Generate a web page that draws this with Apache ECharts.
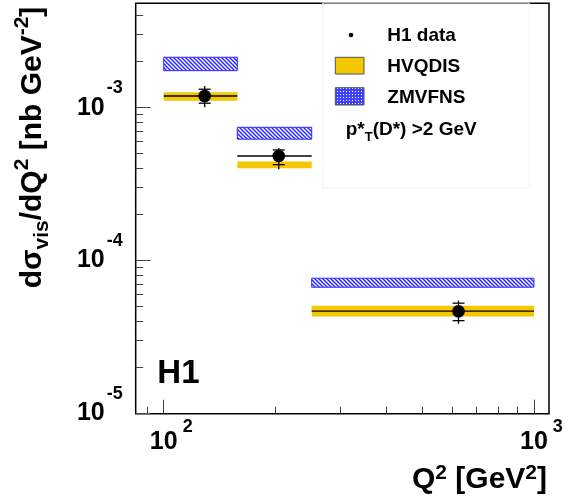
<!DOCTYPE html>
<html>
<head>
<meta charset="utf-8">
<script src="https://cdn.jsdelivr.net/npm/echarts@6/dist/echarts.min.js"></script>
<style>
html, body { margin: 0; padding: 0; background: #fff; }
#chart { width: 569px; height: 504px; }
</style>
</head>
<body>
<div id="chart"></div>
<script>
// ---------- data ----------
const qLow = [100, 158, 251];
const qHigh = [158, 251, 1000];
const qCenter = [129, 204.5, 625.5];
const sigmaData = [1.192e-3, 4.83e-4, 4.67e-5];
const statLow = [1.069e-3, 4.24e-4, 4.05e-5];
const statHigh = [1.319e-3, 5.29e-4, 5.27e-5];
const totLow = [1.006e-3, 3.96e-4, 3.86e-5];
const totHigh = [1.386e-3, 5.45e-4, 5.48e-5];
const hvqdisLow = [1.111e-3, 4.02e-4, 4.31e-5];
const hvqdisHigh = [1.261e-3, 4.44e-4, 5.06e-5];
const zmvfnsLow = [1.745e-3, 6.22e-4, 6.70e-5];
const zmvfnsHigh = [2.135e-3, 7.44e-4, 7.67e-5];

// ---------- axes / ticks ----------
const xMin = 84, xMax = 1098;
const yMin = 9.98e-6, yMax = 4.81e-3;
const xMajorTicks = [100, 1000];
const xMajorExp = ['2', '3'];
const xMinorTicks = [90, 200, 300, 400, 500, 600, 700, 800, 900];
const yMajorTicks = [1e-5, 1e-4, 1e-3];
const yMajorExp = ['-5', '-4', '-3'];
const yMinorTicks = [2e-5, 3e-5, 4e-5, 5e-5, 6e-5, 7e-5, 8e-5, 9e-5,
                     2e-4, 3e-4, 4e-4, 5e-4, 6e-4, 7e-4, 8e-4, 9e-4,
                     2e-3, 3e-3, 4e-3];

const FONT = "'Liberation Sans', Arial, Helvetica, sans-serif";
const YELLOW = '#f4c700';
const BLUE = '#2a2aff';
const ZWS = '\u200b';

function findExp(v, ticks, exps) {
  for (let i = 0; i < ticks.length; i++) {
    if (Math.abs(Math.log10(v) - Math.log10(ticks[i])) < 1e-6) return exps[i];
  }
  return null;
}

// hatch patterns
function makeHatch() {
  const c = document.createElement('canvas');
  c.width = 4; c.height = 4;
  const g = c.getContext('2d');
  g.fillStyle = '#fff'; g.fillRect(0, 0, 4, 4);
  g.strokeStyle = BLUE; g.lineWidth = 1.5;
  g.beginPath();
  g.moveTo(-1, -1); g.lineTo(5, 5);
  g.moveTo(-1, 3); g.lineTo(1, 5);
  g.moveTo(3, -1); g.lineTo(5, 1);
  g.stroke();
  return c;
}
function makeCross() {
  const c = document.createElement('canvas');
  c.width = 3; c.height = 3;
  const g = c.getContext('2d');
  g.fillStyle = '#4040ff'; g.fillRect(0, 0, 3, 3);
  g.fillStyle = '#ffffff'; g.fillRect(1, 1, 1, 1);
  return c;
}
const hatchCanvas = makeHatch();
const crossCanvas = makeCross();

function bandSeries(name, lo, hi, styleFn, z) {
  return {
    type: 'custom',
    name: name,
    xAxisIndex: 0, yAxisIndex: 0,
    z: z,
    silent: true,
    data: qLow.map((q, i) => [q, qHigh[i], lo[i], hi[i]]),
    encode: { x: [0, 1], y: [2, 3] },
    renderItem: function (params, api) {
      const p1 = api.coord([api.value(0), api.value(3)]);
      const p2 = api.coord([api.value(1), api.value(2)]);
      return {
        type: 'rect',
        shape: { x: p1[0], y: p1[1], width: p2[0] - p1[0], height: p2[1] - p1[1] },
        style: styleFn()
      };
    }
  };
}

const dataSeries = {
  type: 'custom',
  name: 'H1 data',
  xAxisIndex: 0, yAxisIndex: 0,
  z: 5,
  silent: true,
  data: qCenter.map((q, i) => [q, sigmaData[i], qLow[i], qHigh[i], statLow[i], statHigh[i], totLow[i], totHigh[i]]),
  encode: { x: [0, 2, 3], y: [1, 4, 5, 6, 7] },
  renderItem: function (params, api) {
    const x = api.value(0), y = api.value(1);
    const pc = api.coord([x, y]);
    const pl = api.coord([api.value(2), y]);
    const pr = api.coord([api.value(3), y]);
    const ps0 = api.coord([x, api.value(4)]);
    const ps1 = api.coord([x, api.value(5)]);
    const pt0 = api.coord([x, api.value(6)]);
    const pt1 = api.coord([x, api.value(7)]);
    const cw = 6;
    const ls = { stroke: '#000', lineWidth: 1.3 };
    return {
      type: 'group',
      children: [
        { type: 'line', shape: { x1: pl[0], y1: pc[1], x2: pr[0], y2: pc[1] }, style: ls },
        { type: 'line', shape: { x1: pc[0], y1: pt1[1], x2: pc[0], y2: pt0[1] }, style: ls },
        { type: 'line', shape: { x1: pc[0] - cw, y1: ps1[1], x2: pc[0] + cw, y2: ps1[1] }, style: ls },
        { type: 'line', shape: { x1: pc[0] - cw, y1: ps0[1], x2: pc[0] + cw, y2: ps0[1] }, style: ls },
        { type: 'circle', shape: { cx: pc[0], cy: pc[1], r: 6.3 }, style: { fill: '#000' } }
      ]
    };
  }
};

const tickColor = '#444';
function txt(size, extra) {
  return Object.assign({ fontSize: size, fontWeight: 'bold', fontFamily: FONT, fill: '#000', color: '#000', lineHeight: size }, extra || {});
}

const option = {
  animation: false,
  backgroundColor: '#fff',
  grid: {
    left: 135.7, top: 3.3, right: 20, bottom: 90.3,
    containLabel: false, outerBoundsMode: 'none',
    show: true, borderColor: '#000', borderWidth: 1.5, backgroundColor: 'transparent'
  },
  xAxis: [
    {
      type: 'log', logBase: 10, min: xMin, max: xMax,
      axisLine: { show: false }, splitLine: { show: false },
      axisTick: { show: true, inside: true, length: 14, customValues: xMajorTicks, lineStyle: { color: tickColor, width: 1 } },
      axisLabel: {
        show: true, customValues: xMajorTicks, margin: 4.7,
        formatter: function (v) {
          const e = findExp(v, xMajorTicks, xMajorExp);
          return e === null ? '' : '{pad|\u00a0}{b|10}{sup|' + e + '}';
        },
        rich: {
          pad: { width: 15, fontSize: 10, lineHeight: 36 },
          b: txt(25, { verticalAlign: 'bottom' }),
          sup: txt(18, { padding: [0, 0, 0, 5], verticalAlign: 'top' })
        }
      }
    },
    {
      type: 'log', logBase: 10, min: xMin, max: xMax, position: 'bottom',
      axisLine: { show: false }, splitLine: { show: false }, axisLabel: { show: false },
      axisTick: { show: true, inside: true, length: 7, customValues: xMinorTicks, lineStyle: { color: tickColor, width: 1 } }
    }
  ],
  yAxis: [
    {
      type: 'log', logBase: 10, min: yMin, max: yMax,
      axisLine: { show: false }, splitLine: { show: false },
      axisTick: { show: true, inside: true, length: 15, customValues: yMajorTicks, lineStyle: { color: tickColor, width: 1 } },
      axisLabel: {
        show: true, customValues: yMajorTicks, margin: 13,
        formatter: function (v) {
          const e = findExp(v, yMajorTicks, yMajorExp);
          return e === null ? '' : '{sp|' + ZWS + '}{b|10}{sup|' + e + '}';
        },
        rich: {
          sp: { fontSize: 10, lineHeight: 58 },
          b: txt(25, { verticalAlign: 'middle' }),
          sup: txt(18, { padding: [0, 0, 0, 2], verticalAlign: 'top' })
        }
      }
    },
    {
      type: 'log', logBase: 10, min: yMin, max: yMax, position: 'left',
      axisLine: { show: false }, splitLine: { show: false }, axisLabel: { show: false },
      axisTick: { show: true, inside: true, length: 7.5, customValues: yMinorTicks, lineStyle: { color: tickColor, width: 1 } }
    }
  ],
  series: [
    bandSeries('ZMVFNS', zmvfnsLow, zmvfnsHigh, () => ({
      fill: { image: hatchCanvas, repeat: 'repeat' }, stroke: BLUE, lineWidth: 1
    }), 2),
    bandSeries('HVQDIS', hvqdisLow, hvqdisHigh, () => ({ fill: YELLOW }), 3),
    dataSeries
  ],
  graphic: [
    // legend frame (very faint)
    { type: 'rect', shape: { x: 322.7, y: 3, width: 206.6, height: 185 }, style: { fill: 'none', stroke: '#f3f3f3', lineWidth: 1 }, z: 10 },
    { type: 'circle', shape: { cx: 351, cy: 35, r: 2.3 }, style: { fill: '#000' }, z: 10 },
    { type: 'rect', shape: { x: 335.3, y: 57.3, width: 28.7, height: 16.7 }, style: { fill: YELLOW, stroke: '#555', lineWidth: 1 }, z: 10 },
    { type: 'rect', shape: { x: 335.3, y: 87.7, width: 28.7, height: 17.3 }, style: { fill: { image: crossCanvas, repeat: 'repeat' }, stroke: '#555', lineWidth: 1 }, z: 10 },
    { type: 'text', x: 387.3, y: 35.5, z: 10, style: { text: 'H1 data', fontSize: 19, fontWeight: 'bold', fontFamily: FONT, fill: '#000', align: 'left', verticalAlign: 'middle', textAlign: 'left', textVerticalAlign: 'middle' } },
    { type: 'text', x: 387.3, y: 67, z: 10, style: { text: 'HVQDIS', fontSize: 19, fontWeight: 'bold', fontFamily: FONT, fill: '#000', align: 'left', verticalAlign: 'middle', textAlign: 'left', textVerticalAlign: 'middle' } },
    { type: 'text', x: 387.3, y: 97.5, z: 10, style: { text: 'ZMVFNS', fontSize: 19, fontWeight: 'bold', fontFamily: FONT, fill: '#000', align: 'left', verticalAlign: 'middle', textAlign: 'left', textVerticalAlign: 'middle' } },
    { type: 'text', x: 345.7, y: 130, z: 10, style: {
        text: '{sp|' + ZWS + '}{m|p*}{sub|T}{m|(D*) >2 GeV}',
        align: 'left', verticalAlign: 'middle', textAlign: 'left', textVerticalAlign: 'middle',
        rich: {
          sp: { fontSize: 10, lineHeight: 27 },
          m: txt(19, { verticalAlign: 'middle' }),
          sub: txt(13, { verticalAlign: 'bottom' })
        }
      } },
    // H1 label
    { type: 'text', x: 157.3, y: 374, z: 10, style: { text: 'H1', fontSize: 33, fontWeight: 'bold', fontFamily: FONT, fill: '#000', align: 'left', verticalAlign: 'middle', textAlign: 'left', textVerticalAlign: 'middle' } },
    // Y title
    { type: 'text', x: 32.5, y: 147.5, rotation: Math.PI / 2, z: 10, style: {
        text: '{sp|' + ZWS + '}{m|dσ}{sub|vis}{m|/dQ}{sup|2}{m| [nb GeV}{sup|-2}{m|]}',
        align: 'center', verticalAlign: 'middle', textAlign: 'center', textVerticalAlign: 'middle',
        rich: {
          sp: { fontSize: 10, lineHeight: 41 },
          m: txt(30, { verticalAlign: 'middle' }),
          sub: txt(21, { verticalAlign: 'bottom' }),
          sup: txt(21, { verticalAlign: 'top' })
        }
      } },
    // X title
    { type: 'text', x: 547, y: 480, z: 10, style: {
        text: '{sp|' + ZWS + '}{m|Q}{sup|2}{m| [GeV}{sup|2}{m|]}',
        align: 'right', verticalAlign: 'middle', textAlign: 'right', textVerticalAlign: 'middle',
        rich: {
          sp: { fontSize: 10, lineHeight: 35 },
          m: txt(30, { verticalAlign: 'middle' }),
          sup: txt(21, { verticalAlign: 'top' })
        }
      } }
  ]
};

const chart = echarts.init(document.getElementById('chart'), null, { renderer: 'canvas' });
chart.setOption(option);
</script>
</body>
</html>
